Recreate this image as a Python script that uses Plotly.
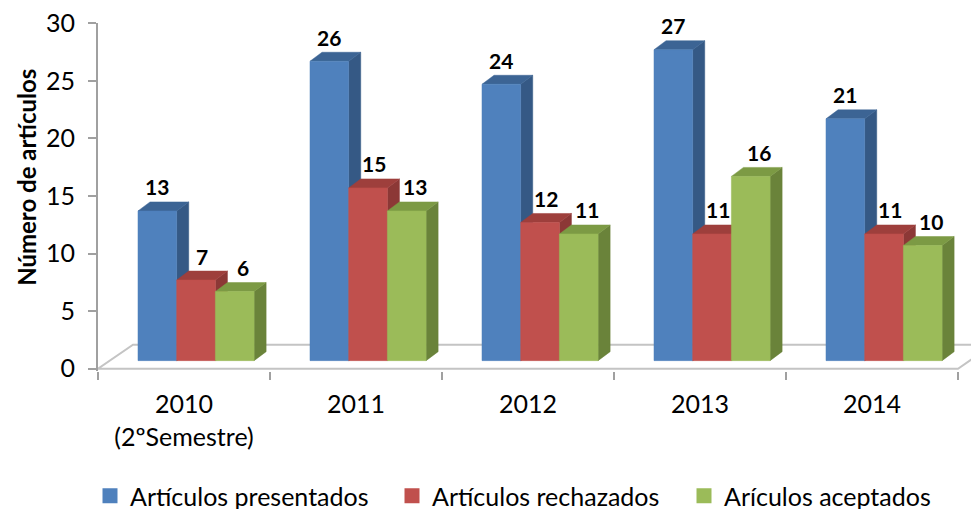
import plotly.graph_objects as go

years = ["2010<br>(2ºSemestre)", "2011", "2012", "2013", "2014"]
presentados = [13, 26, 24, 27, 21]
rechazados = [7, 15, 12, 11, 11]
aceptados = [6, 13, 11, 16, 10]

series = [
    ("Artículos presentados", presentados, "#4F81BD", "#3C6494", "#355985"),
    ("Artículos rechazados", rechazados, "#C0504D", "#9E3F3C", "#8C3836"),
    ("Arículos aceptados", aceptados, "#9BBB59", "#7C9A44", "#6A833A"),
]

FONT = "Lato"
BW = 0.225           # bar width in category units
FX, FY = 0.07, 0.7   # shift of the front faces (fake 3d)
DX, DY = 0.07, 0.78  # depth of each bar
FLX, FLY = 0.2035, 2.09  # depth of the floor
n = len(years)

# the page has an 8px body margin, so the figure is drawn 8px smaller
W, H = 971, 501

fig = go.Figure()

# floor outline
fig.add_trace(go.Scatter(
    x=[0, n, n + FLX, FLX, 0], y=[0, 0, FLY, FLY, 0],
    mode="lines", line={"color": "#C4C4C4", "width": 2},
    hoverinfo="skip", showlegend=False,
))

legends = ["legend", "legend2", "legend3"]
for k, (name, vals, col, top_col, side_col) in enumerate(series):
    off = -1.5 * BW + k * BW
    xs = [i + 0.5 + FX for i in range(n)]
    top_x, top_y, side_x, side_y, fr_x, fr_y = [], [], [], [], [], []
    for xc, v in zip(xs, vals):
        x0 = xc + off
        x1 = x0 + BW
        y1 = v + FY
        top_x += [x0, x1, x1 + DX, x0 + DX, x0, None]
        top_y += [y1, y1, y1 + DY, y1 + DY, y1, None]
        side_x += [x1, x1, x1 + DX, x1 + DX, x1, None]
        side_y += [FY, y1, y1 + DY, FY + DY, FY, None]
        fr_x += [x0, x1, x1, x0, x0, None]
        fr_y += [FY, FY, y1, y1, FY, None]
    for px, py, c in [(side_x, side_y, side_col), (top_x, top_y, top_col),
                      (fr_x, fr_y, col)]:
        fig.add_trace(go.Scatter(
            x=px, y=py, mode="lines", fill="toself", fillcolor=c,
            line={"color": c, "width": 0.5}, hoverinfo="skip",
            showlegend=False, legendgroup=name,
        ))
    # legend marker
    fig.add_trace(go.Scatter(
        x=[None], y=[None], mode="markers", name=name, legendgroup=name,
        legend=legends[k],
        marker={"symbol": "square", "size": 15, "color": col},
    ))
    for xc, v in zip(xs, vals):
        fig.add_annotation(
            x=xc + off + BW / 2, y=v + FY, text=str(v), showarrow=False,
            xshift=[0, 6, 8][k], yshift=24,
            font={"family": FONT, "size": 21, "color": "black", "weight": "bold"},
        )

fig.add_annotation(
    text="Número de artículos", textangle=-90, showarrow=False,
    xref="paper", yref="paper", x=0, y=0.555, xshift=-71,
    xanchor="center", yanchor="middle",
    font={"family": FONT, "size": 24, "color": "black", "weight": "bold"},
)

leg_style = {
    "orientation": "h", "xref": "container", "yref": "container",
    "y": 1 - 488 / H, "xanchor": "left", "yanchor": "middle",
    "font": {"family": FONT, "size": 25}, "bgcolor": "rgba(0,0,0,0)",
}

fig.update_layout(
    width=W, height=H,
    margin={"l": 90, "r": 0, "t": 15.07, "b": 138.2},
    plot_bgcolor="white", paper_bgcolor="white",
    font={"family": FONT, "size": 25, "color": "black"},
    xaxis={
        "range": [0, 881 / 172], "showline": False, "showgrid": False,
        "zeroline": False, "tickmode": "array",
        "tickvals": [i + 0.5 for i in range(n)], "ticktext": years,
        "ticks": "", "ticklabelstandoff": 16,
        "minor": {"tickmode": "array", "tickvals": list(range(n + 1)),
                  "ticks": "outside", "ticklen": 8, "tickwidth": 2,
                  "tickcolor": "#A0A0A0", "showgrid": False},
    },
    yaxis={
        "range": [-0.2, 30.02], "tickvals": [0, 5, 10, 15, 20, 25, 30],
        "showline": True, "linecolor": "#A0A0A0", "linewidth": 2,
        "ticks": "outside", "ticklen": 8, "tickwidth": 2, "tickcolor": "#A0A0A0",
        "showgrid": False, "zeroline": False, "ticklabelstandoff": 8,
        "ticklabeloverflow": "allow",
    },
    legend={**leg_style, "x": 82 / W},
    legend2={**leg_style, "x": 384 / W},
    legend3={**leg_style, "x": 676 / W},
)

fig.write_html("out.html")
